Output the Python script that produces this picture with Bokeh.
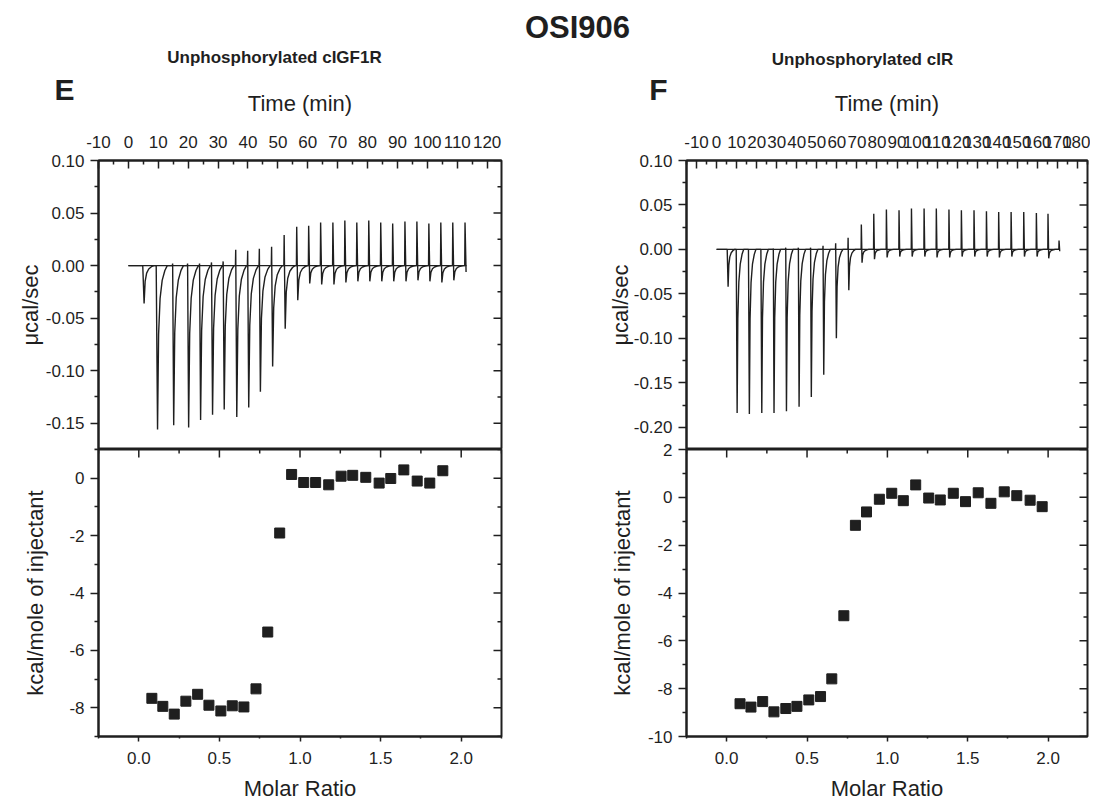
from bokeh.plotting import figure
from bokeh.layouts import column, row
from bokeh.models import FixedTicker, Range1d, Label, PrintfTickFormatter
from bokeh.embed import file_html
from bokeh.resources import INLINE

FONT = "Liberation Sans"
INK = "#1f1f1f"

# ---------------- data ----------------
main_title = "OSI906"
e_title = "Unphosphorylated cIGF1R"
f_title = "Unphosphorylated cIR"

# Panel E raw thermogram: injection times (min), dip minima and spike maxima (ucal/sec)
e_inj_time = [4.8, 9.3, 14.7, 19.7, 23.7, 27.7, 31.6, 35.8, 39.8, 43.7, 47.8, 52.0, 56.2,
              60.2, 64.2, 68.3, 72.3, 76.3, 80.3, 84.3, 88.3, 92.4, 96.4, 100.4, 104.4, 108.4, 112.5]
e_dip = [-0.036, -0.156, -0.152, -0.154, -0.147, -0.142, -0.137, -0.144, -0.135, -0.120, -0.096,
         -0.060, -0.033, -0.017, -0.018, -0.018, -0.016, -0.015, -0.015, -0.015, -0.015, -0.015,
         -0.014, -0.015, -0.016, -0.014, -0.006]
e_spike = [0.0, 0.0, 0.002, 0.002, 0.002, 0.003, 0.004, 0.015, 0.014, 0.016, 0.018, 0.029, 0.037,
           0.038, 0.041, 0.041, 0.043, 0.041, 0.043, 0.041, 0.040, 0.042, 0.042, 0.040, 0.041, 0.041, 0.041]
e_t_end = 113.1

# Panel E integrated heats
e_ratio = [0.081, 0.149, 0.220, 0.292, 0.365, 0.435, 0.509, 0.580, 0.652, 0.727, 0.800, 0.874, 0.948,
           1.023, 1.097, 1.178, 1.255, 1.327, 1.408, 1.491, 1.563, 1.644, 1.727, 1.805, 1.886]
e_heat = [-7.67, -7.95, -8.22, -7.77, -7.53, -7.91, -8.11, -7.93, -7.97, -7.34, -5.36, -1.91, 0.13,
          -0.15, -0.15, -0.23, 0.07, 0.10, 0.03, -0.17, -0.01, 0.29, -0.10, -0.17, 0.26]

# Panel F raw thermogram
f_inj_time = [5.3, 9.8, 15.9, 22.1, 28.2, 34.4, 40.7, 46.8, 53.0, 59.3, 65.5, 72.1, 78.3, 84.6,
              90.9, 97.1, 103.4, 109.5, 115.8, 122.0, 128.3, 134.5, 140.6, 146.8, 153.1, 159.4, 165.2, 170.7]
f_dip = [-0.042, -0.184, -0.185, -0.184, -0.184, -0.182, -0.177, -0.166, -0.141, -0.100, -0.046,
         -0.015, -0.011, -0.009, -0.008, -0.008, -0.008, -0.009, -0.009, -0.008, -0.008, -0.008,
         -0.009, -0.008, -0.008, -0.008, -0.010, -0.002]
f_spike = [0.0, 0.0, 0.0, 0.0, 0.001, 0.002, 0.002, 0.002, 0.004, 0.007, 0.013, 0.028, 0.040, 0.045,
           0.044, 0.046, 0.046, 0.046, 0.045, 0.044, 0.044, 0.043, 0.042, 0.042, 0.042, 0.041, 0.040, 0.010]
f_t_end = 171.2

# Panel F integrated heats
f_ratio = [0.083, 0.151, 0.224, 0.294, 0.368, 0.437, 0.511, 0.584, 0.654, 0.729, 0.801, 0.870, 0.950,
           1.027, 1.099, 1.176, 1.257, 1.329, 1.410, 1.486, 1.565, 1.644, 1.727, 1.805, 1.888, 1.963]
f_heat = [-8.63, -8.77, -8.54, -8.97, -8.83, -8.74, -8.47, -8.33, -7.59, -4.95, -1.17, -0.61, -0.08,
          0.17, -0.14, 0.52, -0.03, -0.11, 0.17, -0.18, 0.19, -0.25, 0.23, 0.07, -0.12, -0.39]

# tick values
e_time_major = list(range(-10, 121, 10))
e_time_minor = list(range(-5, 125, 10))
f_time_major = list(range(-10, 181, 10))
f_time_minor = list(range(-15, 186, 10))
e_pow_major = [-0.15, -0.10, -0.05, 0.0, 0.05, 0.10]
f_pow_major = [-0.20, -0.15, -0.10, -0.05, 0.0, 0.05, 0.10]
pow_minor = [-0.175, -0.125, -0.075, -0.025, 0.025, 0.075]
ratio_major = [0.0, 0.5, 1.0, 1.5, 2.0]
ratio_minor = [-0.25, 0.25, 0.75, 1.25, 1.75, 2.25]
e_heat_major = [-8, -6, -4, -2, 0]
f_heat_major = [-10, -8, -6, -4, -2, 0, 2]
heat_minor = [-9, -7, -5, -3, -1, 1]

# peak shape (style): minutes after injection and fraction of the dip depth
REC_DT = [0.45, 0.8, 1.3, 2.0, 2.9, 3.7]
REC_FR = [1.0, 0.42, 0.2, 0.09, 0.03, 0.0]


def build_trace(times, dips, spikes, t_end):
    xs, ys = [0.0], [0.0]
    for t, d, s in zip(times, dips, spikes):
        xs.append(t); ys.append(0.0)
        if s > 0:
            xs.append(t + 0.1); ys.append(s)
        for dt, fr in zip(REC_DT, REC_FR):
            if t + dt > t_end:
                break
            xs.append(t + dt); ys.append(d * fr)
    return xs, ys


def style_axis(ax, tin, tout, standoff):
    ax.axis_line_color = INK
    ax.axis_line_width = 2
    ax.major_tick_line_color = INK
    ax.minor_tick_line_color = INK
    ax.major_tick_line_width = 1.5
    ax.minor_tick_line_width = 1.5
    ax.major_tick_in = tin
    ax.major_tick_out = tout
    ax.minor_tick_in = tin // 2
    ax.minor_tick_out = tout // 2
    ax.major_label_text_font = FONT
    ax.major_label_text_color = INK
    ax.major_label_text_font_size = "17px"
    ax.major_label_standoff = standoff
    ax.axis_label_text_font = FONT
    ax.axis_label_text_font_size = "22px"
    ax.axis_label_text_font_style = "normal"
    ax.axis_label_text_color = INK


def inner_ticks(p, side, major, minor, xr, yr, frame_w, frame_h):
    """Mirror ticks pointing into the frame on the right or top edge."""
    for vals, ln in ((major, 8), (minor, 4)):
        if side == "right":
            d = ln * (xr[1] - xr[0]) / frame_w
            p.segment(x0=[xr[1]] * len(vals), x1=[xr[1] - d] * len(vals), y0=vals, y1=vals,
                      line_color=INK, line_width=1.5)
        else:
            d = ln * (yr[1] - yr[0]) / frame_h
            p.segment(x0=vals, x1=vals, y0=[yr[1]] * len(vals), y1=[yr[1] - d] * len(vals),
                      line_color=INK, line_width=1.5)


def base_fig(**kw):
    p = figure(output_backend="svg", toolbar_location=None, **kw)
    p.grid.visible = False
    p.outline_line_color = INK
    p.outline_line_width = 2
    p.background_fill_color = "white"
    p.border_fill_color = None
    return p


TOP_BORDER = 80      # canvas of the upper panels starts at page y = 80
FRAME_TOP_H = 289
FRAME_BOT_H = 290


def make_top(xr, yr, x_major, x_minor, y_major, tx, ty, t_end, width, left_border, frame_w,
             ylab_standoff):
    p = base_fig(width=width, height=TOP_BORDER + FRAME_TOP_H, x_range=Range1d(*xr),
                 y_range=Range1d(*yr), x_axis_location="above", min_border_left=left_border,
                 min_border_right=3, min_border_top=TOP_BORDER, min_border_bottom=0)
    xa = p.xaxis[0]
    xa.ticker = FixedTicker(ticks=x_major, minor_ticks=x_minor)
    xa.formatter = PrintfTickFormatter(format="%d")
    xa.axis_label = "Time (min)"
    style_axis(xa, 8, 0, 13)
    xa.axis_label_standoff = 17
    ya = p.yaxis[0]
    ya.ticker = FixedTicker(ticks=y_major, minor_ticks=pow_minor)
    ya.formatter = PrintfTickFormatter(format="%.2f")
    ya.axis_label = "μcal/sec"
    style_axis(ya, 0, 8, 6)
    ya.axis_label_standoff = ylab_standoff
    inner_ticks(p, "right", y_major, pow_minor, xr, yr, frame_w, FRAME_TOP_H)
    p.line(tx, ty, line_color=INK, line_width=1.4)
    p.line([tx[0], t_end], [0, 0], line_color=INK, line_width=1.4)
    return p


def make_bottom(xr, yr, y_major, rx, hy, width, left_border, frame_w, ylab_standoff):
    p = base_fig(width=width, height=12 + FRAME_BOT_H + 64, x_range=Range1d(*xr),
                 y_range=Range1d(*yr), min_border_left=left_border, min_border_right=3,
                 min_border_top=12, min_border_bottom=64)
    xa = p.xaxis[0]
    xa.ticker = FixedTicker(ticks=ratio_major, minor_ticks=ratio_minor)
    xa.formatter = PrintfTickFormatter(format="%.1f")
    xa.axis_label = "Molar Ratio"
    style_axis(xa, 0, 5, 10)
    xa.axis_label_standoff = 9
    ya = p.yaxis[0]
    ya.ticker = FixedTicker(ticks=y_major, minor_ticks=heat_minor)
    ya.formatter = PrintfTickFormatter(format="%d")
    ya.axis_label = "kcal/mole of injectant"
    style_axis(ya, 0, 8, 6)
    ya.axis_label_standoff = ylab_standoff
    inner_ticks(p, "above", ratio_major, ratio_minor, xr, yr, frame_w, FRAME_BOT_H)
    inner_ticks(p, "right", y_major, heat_minor, xr, yr, frame_w, FRAME_BOT_H)
    p.scatter(rx, hy, marker="square", size=10, fill_color=INK, line_color=INK)
    p.margin = (-12, 0, 0, 0)
    return p


ex, ey = build_trace(e_inj_time, e_dip, e_spike, e_t_end)
fx, fy = build_trace(f_inj_time, f_dip, f_spike, f_t_end)

LB_L, FW_L = 98, 403
LB_R, FW_R = 182, 401
LW, RW = LB_L + FW_L + 3, LB_R + FW_R + 3

e_top = make_top((-10, 124.8), (-0.175, 0.10), e_time_major, e_time_minor, e_pow_major,
                 ex, ey, e_t_end, LW, LB_L, FW_L, 0)
f_top = make_top((-15, 185), (-0.225, 0.10), f_time_major, f_time_minor, f_pow_major,
                 fx, fy, f_t_end, RW, LB_R, FW_R, -2)
e_bot = make_bottom((-0.25, 2.25), (-9, 1), e_heat_major, e_ratio, e_heat, LW, LB_L, FW_L, 18)
f_bot = make_bottom((-0.25, 2.245), (-10, 2), f_heat_major, f_ratio, f_heat, RW, LB_R, FW_R, 10)

# header strip (page pixels): title, subtitles and panel letters
TH = 106
tfig = figure(width=LW + RW, height=TH, x_range=Range1d(0, LW + RW), y_range=Range1d(0, TH),
              x_axis_type=None, y_axis_type=None, output_backend="svg", toolbar_location=None,
              min_border=0)
tfig.grid.visible = False
tfig.outline_line_color = None


def head_label(x, y_page, text, size):
    tfig.add_layout(Label(x=x, y=TH - y_page, text=text, text_font=FONT, text_font_size=size,
                          text_font_style="bold", text_color=INK, text_align="center",
                          text_baseline="middle"))


head_label(577, 27, main_title, "31px")
head_label(274, 57, e_title, "17px")
head_label(862, 59, f_title, "17px")
head_label(64, 89, "E", "30px")
head_label(658, 89, "F", "30px")

body = row(column(e_top, e_bot), column(f_top, f_bot))
body.margin = (TOP_BORDER - TH, 0, 0, 0)
layout = column(tfig, body)
open("out.html", "w").write(file_html(layout, INLINE))
